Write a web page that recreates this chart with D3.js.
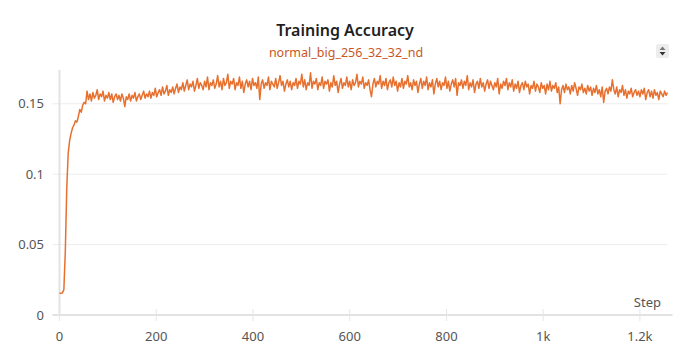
<!DOCTYPE html>
<html>
<head>
<meta charset="utf-8">
<script src="https://cdn.jsdelivr.net/npm/d3@7"></script>
<style>
  html, body { margin: 0; padding: 0; background: #fff; }
  svg { display: block; font-family: "Noto Sans", "Open Sans", sans-serif; }
</style>
</head>
<body>
<svg id="chart" width="690" height="362"></svg>
<script>
const title = "Training Accuracy";
const runName = "normal_big_256_32_32_nd";
const xLabel = "Step";
const stepInterval = 3;
const accuracy = [
  0.0155,0.0155,0.0157,0.018,0.045,0.090,0.115,0.124,0.129,0.133,0.135,0.138,0.137,0.141,0.146,0.144,0.149,0.151,0.150,0.159,
  0.153,0.157,0.152,0.158,0.154,0.156,0.160,0.153,0.157,0.155,0.159,0.152,0.156,0.154,0.158,0.153,0.157,0.151,0.155,0.157,
  0.153,0.156,0.152,0.157,0.154,0.148,0.155,0.153,0.157,0.152,0.156,0.154,0.158,0.152,0.155,0.157,0.153,0.156,0.159,0.154,
  0.157,0.155,0.159,0.154,0.158,0.156,0.161,0.155,0.158,0.160,0.156,0.162,0.157,0.159,0.163,0.156,0.160,0.158,0.162,0.157,
  0.161,0.164,0.158,0.162,0.160,0.165,0.159,0.163,0.167,0.160,0.164,0.162,0.166,0.159,0.163,0.168,0.161,0.165,0.163,0.160,
  0.166,0.162,0.169,0.160,0.165,0.163,0.167,0.161,0.164,0.170,0.162,0.166,0.160,0.168,0.163,0.165,0.171,0.161,0.166,0.164,
  0.168,0.160,0.165,0.163,0.169,0.161,0.166,0.158,0.164,0.167,0.162,0.166,0.160,0.168,0.163,0.165,0.161,0.169,0.153,0.164,
  0.167,0.161,0.165,0.163,0.169,0.160,0.166,0.164,0.162,0.168,0.161,0.165,0.170,0.163,0.166,0.159,0.164,0.167,0.162,0.166,
  0.160,0.165,0.163,0.168,0.161,0.166,0.164,0.171,0.162,0.167,0.160,0.165,0.163,0.172,0.161,0.166,0.164,0.168,0.160,0.165,
  0.163,0.169,0.161,0.166,0.164,0.167,0.159,0.165,0.162,0.170,0.163,0.166,0.158,0.164,0.168,0.161,0.165,0.163,0.169,0.162,
  0.166,0.160,0.167,0.163,0.165,0.171,0.162,0.166,0.164,0.169,0.161,0.165,0.163,0.167,0.160,0.155,0.164,0.168,0.162,0.166,
  0.164,0.170,0.161,0.166,0.163,0.168,0.160,0.165,0.167,0.162,0.169,0.163,0.166,0.159,0.165,0.162,0.168,0.161,0.166,0.164,
  0.170,0.162,0.165,0.160,0.167,0.163,0.166,0.158,0.164,0.168,0.161,0.166,0.163,0.169,0.160,0.165,0.162,0.167,0.157,0.164,
  0.168,0.162,0.166,0.160,0.165,0.163,0.169,0.161,0.166,0.159,0.164,0.167,0.162,0.168,0.156,0.165,0.163,0.167,0.161,0.166,
  0.163,0.170,0.160,0.165,0.162,0.167,0.158,0.164,0.166,0.161,0.168,0.162,0.165,0.159,0.164,0.167,0.161,0.166,0.163,0.160,
  0.165,0.162,0.168,0.157,0.164,0.161,0.166,0.163,0.168,0.160,0.165,0.162,0.167,0.159,0.164,0.161,0.166,0.158,0.163,0.165,
  0.160,0.166,0.162,0.164,0.157,0.163,0.161,0.166,0.159,0.164,0.162,0.158,0.165,0.161,0.163,0.157,0.164,0.160,0.166,0.159,
  0.163,0.161,0.165,0.158,0.162,0.150,0.160,0.163,0.158,0.164,0.160,0.162,0.157,0.163,0.159,0.165,0.161,0.156,0.162,0.160,
  0.164,0.158,0.161,0.157,0.163,0.159,0.162,0.156,0.161,0.158,0.163,0.157,0.160,0.155,0.162,0.151,0.159,0.161,0.157,0.162,
  0.159,0.167,0.160,0.157,0.162,0.155,0.160,0.158,0.163,0.156,0.160,0.154,0.159,0.157,0.161,0.155,0.158,0.160,0.156,0.159,
  0.155,0.160,0.157,0.161,0.153,0.158,0.160,0.155,0.159,0.154,0.160,0.156,0.158,0.153,0.159,0.157,0.155,0.159,0.156,0.158
];
const steps = accuracy.map((_, i) => i * stepInterval);
const xTicks = [0, 200, 400, 600, 800, 1000, 1200];
const xTickLabels = ["0", "200", "400", "600", "800", "1k", "1.2k"];
const yTicks = [0, 0.05, 0.1, 0.15];
const yTickLabels = ["0", "0.05", "0.1", "0.15"];

(function () {
const svg = d3.select("#chart");
const pL = 59.5, pR = 667.5, pT = 70, pB = 315;

const x = d3.scaleLinear().domain([0, d3.max(steps)]).range([pL, pR]);
const y = d3.scaleLinear().domain([0, 0.174]).range([pB, pT]);

// gridlines
svg.append("g").selectAll("line").data(yTicks.filter(d => d > 0)).join("line")
  .attr("x1", pL - 7).attr("x2", pR)
  .attr("y1", d => y(d)).attr("y2", d => y(d))
  .attr("stroke", "#ececec").attr("stroke-width", 1);

// left axis line
svg.append("line").attr("x1", pL).attr("x2", pL).attr("y1", pT).attr("y2", pB)
  .attr("stroke", "#e2e2e2").attr("stroke-width", 2);
// bottom axis line
svg.append("line").attr("x1", pL - 7).attr("x2", pR + 5).attr("y1", pB).attr("y2", pB)
  .attr("stroke", "#e2e2e2").attr("stroke-width", 2);

// x ticks
svg.append("g").selectAll("line").data(xTicks).join("line")
  .attr("x1", d => x(d)).attr("x2", d => x(d))
  .attr("y1", pB - 6).attr("y2", pB + 6)
  .attr("stroke", "#e6e6e6").attr("stroke-width", 1);

// x labels
svg.append("g").selectAll("text").data(xTicks).join("text")
  .attr("x", d => x(d)).attr("y", 341)
  .attr("text-anchor", "middle").attr("font-size", 13).attr("fill", "#555")
  .text((d, i) => xTickLabels[i]);

// y labels
svg.append("g").selectAll("text").data(yTicks).join("text")
  .attr("x", 44).attr("y", d => y(d) + 4.5)
  .attr("text-anchor", "end").attr("font-size", 13).attr("fill", "#555")
  .text((d, i) => yTickLabels[i]);

// Step label
svg.append("text").attr("x", 661).attr("y", 307).attr("text-anchor", "end")
  .attr("font-size", 13).attr("fill", "#555").text(xLabel);

// line
const line = d3.line().x((d, i) => x(steps[i])).y(d => y(d));
svg.append("path").datum(accuracy)
  .attr("d", line).attr("fill", "none")
  .attr("stroke", "#e8702e").attr("stroke-width", 1.5).attr("stroke-linejoin", "round");

// title
svg.append("text").attr("x", 345).attr("y", 36).attr("text-anchor", "middle")
  .attr("font-size", 16).attr("font-weight", 600).attr("fill", "#1f1f1f").text(title);
svg.append("text").attr("x", 346).attr("y", 57).attr("text-anchor", "middle")
  .attr("font-size", 12.5).attr("fill", "#c9561f").text(runName);

// legend scroll icon
const ic = svg.append("g").attr("transform", "translate(656,44)");
ic.append("rect").attr("width", 13).attr("height", 14).attr("rx", 2).attr("fill", "#ededed");
ic.append("path").attr("d", "M3.5,6 L6.5,2.5 L9.5,6 Z").attr("fill", "#777");
ic.append("path").attr("d", "M3.5,8 L6.5,11.5 L9.5,8 Z").attr("fill", "#333");
})();
</script>
</body>
</html>
